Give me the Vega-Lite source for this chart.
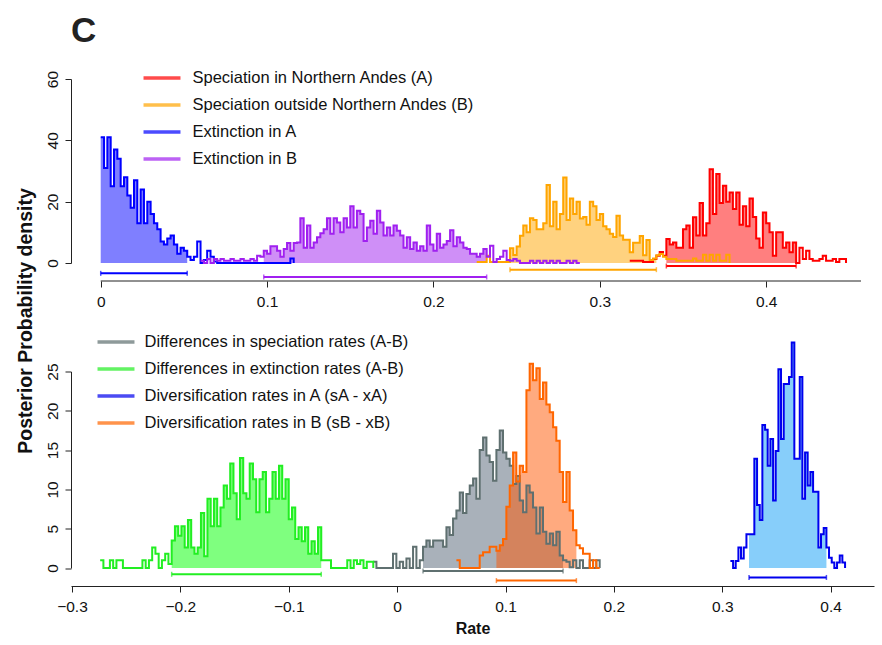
{
"$schema": "https://vega.github.io/schema/vega-lite/v6.json",
"background": "white",
"padding": {"left": 14, "top": 14, "right": 6, "bottom": 4},
"title": {"text": "C", "anchor": "start", "frame": "group", "fontSize": 35, "fontWeight": "bold", "font": "Liberation Sans", "color": "#222222", "baseline": "alphabetic", "offset": -17.5},
"config": {
  "view": {"stroke": null},
  "font": "Liberation Sans",
  "axis": {"grid": false, "domainColor": "#222222", "tickColor": "#222222", "labelColor": "#111111", "labelFont": "Liberation Sans", "labelFontSize": 15.5, "tickSize": 6, "labelFlush": false, "labelOverlap": false, "titleFont": "Liberation Sans", "titleFontSize": 16, "titleFontWeight": "bold", "titleColor": "#111111"},
  "legend": {"labelFont": "Liberation Sans", "labelFontSize": 16.5, "labelColor": "#111111", "labelLimit": 0, "symbolType": "M-1.12,0H1.12", "symbolSize": 1089, "symbolStrokeWidth": 3.5, "padding": 0, "rowPadding": 0}
},
"datasets": {
"topH": [{"k":"sA","lo":0.34,"hi":0.418},{"k":"sB","lo":0.246,"hi":0.334},{"k":"eA","lo":0,"hi":0.052},{"k":"eB","lo":0.098,"hi":0.232}],
"botH": [{"k":"dS","lo":0.0239,"hi":0.1531},{"k":"dE","lo":-0.208,"hi":-0.07},{"k":"dA","lo":0.3247,"hi":0.3961},{"k":"dB","lo":0.0916,"hi":0.1654}],
"top": [
{"k":"sA","x":0.318,"y":0.7},{"k":"sA","x":0.32,"y":0.7},{"k":"sA","x":0.322,"y":0.7},{"k":"sA","x":0.324,"y":0.7},{"k":"sA","x":0.326,"y":0.3},{"k":"sA","x":0.328,"y":0.3},{"k":"sA","x":0.33,"y":0.3},{"k":"sA","x":0.332,"y":1.3},{"k":"sA","x":0.334,"y":2.4},{"k":"sA","x":0.336,"y":3.6},{"k":"sA","x":0.338,"y":2.4},{"k":"sA","x":0.34,"y":7.8},{"k":"sA","x":0.342,"y":6},{"k":"sA","x":0.344,"y":6.7},{"k":"sA","x":0.346,"y":5},{"k":"sA","x":0.348,"y":5},{"k":"sA","x":0.35,"y":11},{"k":"sA","x":0.352,"y":12.2},{"k":"sA","x":0.354,"y":5},{"k":"sA","x":0.356,"y":14.9},{"k":"sA","x":0.358,"y":9},{"k":"sA","x":0.36,"y":19.6},{"k":"sA","x":0.362,"y":9},{"k":"sA","x":0.364,"y":13},{"k":"sA","x":0.366,"y":30.6},{"k":"sA","x":0.368,"y":16},{"k":"sA","x":0.37,"y":29},{"k":"sA","x":0.372,"y":19.6},{"k":"sA","x":0.374,"y":25.2},{"k":"sA","x":0.376,"y":20},{"k":"sA","x":0.378,"y":23},{"k":"sA","x":0.38,"y":17.6},{"k":"sA","x":0.382,"y":23},{"k":"sA","x":0.384,"y":12.5},{"k":"sA","x":0.386,"y":18.5},{"k":"sA","x":0.388,"y":12},{"k":"sA","x":0.39,"y":21},{"k":"sA","x":0.392,"y":15},{"k":"sA","x":0.394,"y":8},{"k":"sA","x":0.396,"y":5},{"k":"sA","x":0.398,"y":16.5},{"k":"sA","x":0.4,"y":13},{"k":"sA","x":0.402,"y":10},{"k":"sA","x":0.404,"y":2.4},{"k":"sA","x":0.406,"y":10},{"k":"sA","x":0.408,"y":10},{"k":"sA","x":0.41,"y":5},{"k":"sA","x":0.412,"y":6.7},{"k":"sA","x":0.414,"y":3.5},{"k":"sA","x":0.416,"y":6.7},{"k":"sA","x":0.418,"y":0},{"k":"sA","x":0.42,"y":5},{"k":"sA","x":0.422,"y":1.3},{"k":"sA","x":0.424,"y":4},{"k":"sA","x":0.426,"y":1.3},{"k":"sA","x":0.428,"y":0.7},{"k":"sA","x":0.43,"y":0.7},{"k":"sA","x":0.432,"y":1.3},{"k":"sA","x":0.434,"y":2.4},{"k":"sA","x":0.436,"y":0.7},{"k":"sA","x":0.438,"y":0.7},{"k":"sA","x":0.44,"y":1.3},{"k":"sA","x":0.442,"y":0.3},{"k":"sA","x":0.444,"y":1.3},{"k":"sA","x":0.446,"y":1.3},{"k":"sA","x":0.448,"y":0},
{"k":"sB","x":0.226,"y":0.3},{"k":"sB","x":0.23,"y":0.3},{"k":"sB","x":0.232,"y":2.4},{"k":"sB","x":0.234,"y":0.3},{"k":"sB","x":0.244,"y":0.3},{"k":"sB","x":0.246,"y":4.8},{"k":"sB","x":0.248,"y":2.6},{"k":"sB","x":0.25,"y":5.4},{"k":"sB","x":0.252,"y":8.9},{"k":"sB","x":0.254,"y":12.2},{"k":"sB","x":0.256,"y":10},{"k":"sB","x":0.258,"y":14.6},{"k":"sB","x":0.26,"y":14},{"k":"sB","x":0.262,"y":11},{"k":"sB","x":0.264,"y":11},{"k":"sB","x":0.266,"y":13},{"k":"sB","x":0.268,"y":25.4},{"k":"sB","x":0.27,"y":12},{"k":"sB","x":0.272,"y":20},{"k":"sB","x":0.274,"y":11},{"k":"sB","x":0.276,"y":16},{"k":"sB","x":0.278,"y":27.9},{"k":"sB","x":0.28,"y":14},{"k":"sB","x":0.282,"y":21},{"k":"sB","x":0.284,"y":16},{"k":"sB","x":0.286,"y":20},{"k":"sB","x":0.288,"y":14.5},{"k":"sB","x":0.29,"y":15},{"k":"sB","x":0.292,"y":12.5},{"k":"sB","x":0.294,"y":20},{"k":"sB","x":0.296,"y":18.5},{"k":"sB","x":0.298,"y":14},{"k":"sB","x":0.3,"y":16},{"k":"sB","x":0.302,"y":12},{"k":"sB","x":0.304,"y":11},{"k":"sB","x":0.306,"y":9.5},{"k":"sB","x":0.308,"y":8.5},{"k":"sB","x":0.31,"y":15.4},{"k":"sB","x":0.312,"y":9},{"k":"sB","x":0.314,"y":7.6},{"k":"sB","x":0.316,"y":7.6},{"k":"sB","x":0.318,"y":3.5},{"k":"sB","x":0.32,"y":6.6},{"k":"sB","x":0.322,"y":6.6},{"k":"sB","x":0.324,"y":8.8},{"k":"sB","x":0.326,"y":2.5},{"k":"sB","x":0.328,"y":7.5},{"k":"sB","x":0.33,"y":1},{"k":"sB","x":0.332,"y":1.5},{"k":"sB","x":0.334,"y":2.5},{"k":"sB","x":0.336,"y":2.9},{"k":"sB","x":0.338,"y":2},{"k":"sB","x":0.34,"y":1.3},{"k":"sB","x":0.342,"y":1.3},{"k":"sB","x":0.344,"y":1.3},{"k":"sB","x":0.346,"y":0.7},{"k":"sB","x":0.356,"y":1.5},{"k":"sB","x":0.358,"y":0.7},{"k":"sB","x":0.362,"y":2.7},{"k":"sB","x":0.364,"y":0.7},{"k":"sB","x":0.366,"y":2.7},{"k":"sB","x":0.368,"y":0.7},{"k":"sB","x":0.37,"y":2.7},{"k":"sB","x":0.372,"y":0.7},{"k":"sB","x":0.376,"y":2.7},{"k":"sB","x":0.378,"y":0},
{"k":"eA","x":0,"y":41},{"k":"eA","x":0.002,"y":31},{"k":"eA","x":0.004,"y":41},{"k":"eA","x":0.006,"y":25},{"k":"eA","x":0.008,"y":37},{"k":"eA","x":0.01,"y":34},{"k":"eA","x":0.012,"y":25},{"k":"eA","x":0.014,"y":28},{"k":"eA","x":0.016,"y":22},{"k":"eA","x":0.018,"y":18},{"k":"eA","x":0.02,"y":27},{"k":"eA","x":0.022,"y":13},{"k":"eA","x":0.024,"y":24},{"k":"eA","x":0.026,"y":13},{"k":"eA","x":0.028,"y":20},{"k":"eA","x":0.03,"y":16},{"k":"eA","x":0.032,"y":13},{"k":"eA","x":0.034,"y":11},{"k":"eA","x":0.036,"y":7},{"k":"eA","x":0.038,"y":6},{"k":"eA","x":0.04,"y":8},{"k":"eA","x":0.042,"y":9},{"k":"eA","x":0.044,"y":6},{"k":"eA","x":0.046,"y":3},{"k":"eA","x":0.048,"y":5},{"k":"eA","x":0.05,"y":4},{"k":"eA","x":0.052,"y":2},{"k":"eA","x":0.054,"y":1},{"k":"eA","x":0.056,"y":2},{"k":"eA","x":0.058,"y":7},{"k":"eA","x":0.06,"y":0},{"k":"eA","x":0.062,"y":1},{"k":"eA","x":0.064,"y":4},{"k":"eA","x":0.066,"y":2},{"k":"eA","x":0.068,"y":0.5},{"k":"eA","x":0.07,"y":0},{"k":"eA","x":0.114,"y":1.5},{"k":"eA","x":0.116,"y":0},
{"k":"eB","x":0.06,"y":0.7},{"k":"eB","x":0.062,"y":0},{"k":"eB","x":0.064,"y":1.3},{"k":"eB","x":0.066,"y":0},{"k":"eB","x":0.068,"y":1.3},{"k":"eB","x":0.07,"y":0.7},{"k":"eB","x":0.072,"y":1.3},{"k":"eB","x":0.074,"y":0.7},{"k":"eB","x":0.078,"y":1.3},{"k":"eB","x":0.08,"y":0.7},{"k":"eB","x":0.084,"y":1.3},{"k":"eB","x":0.086,"y":0.7},{"k":"eB","x":0.09,"y":1.3},{"k":"eB","x":0.092,"y":0.7},{"k":"eB","x":0.094,"y":2.4},{"k":"eB","x":0.096,"y":2},{"k":"eB","x":0.098,"y":4},{"k":"eB","x":0.1,"y":3},{"k":"eB","x":0.102,"y":5.5},{"k":"eB","x":0.104,"y":5.5},{"k":"eB","x":0.106,"y":4},{"k":"eB","x":0.108,"y":2},{"k":"eB","x":0.11,"y":4.6},{"k":"eB","x":0.112,"y":6.5},{"k":"eB","x":0.114,"y":4},{"k":"eB","x":0.116,"y":6.5},{"k":"eB","x":0.118,"y":6.7},{"k":"eB","x":0.12,"y":14.6},{"k":"eB","x":0.122,"y":5},{"k":"eB","x":0.124,"y":12.2},{"k":"eB","x":0.126,"y":5},{"k":"eB","x":0.128,"y":6.7},{"k":"eB","x":0.13,"y":8.4},{"k":"eB","x":0.132,"y":9.7},{"k":"eB","x":0.134,"y":11},{"k":"eB","x":0.136,"y":14.6},{"k":"eB","x":0.138,"y":9.5},{"k":"eB","x":0.14,"y":14.6},{"k":"eB","x":0.142,"y":13.2},{"k":"eB","x":0.144,"y":10},{"k":"eB","x":0.146,"y":14.6},{"k":"eB","x":0.148,"y":11.6},{"k":"eB","x":0.15,"y":18.5},{"k":"eB","x":0.152,"y":11.6},{"k":"eB","x":0.154,"y":17},{"k":"eB","x":0.156,"y":16},{"k":"eB","x":0.158,"y":7.2},{"k":"eB","x":0.16,"y":11.6},{"k":"eB","x":0.162,"y":13.8},{"k":"eB","x":0.164,"y":9.5},{"k":"eB","x":0.166,"y":17},{"k":"eB","x":0.168,"y":13.2},{"k":"eB","x":0.17,"y":9},{"k":"eB","x":0.172,"y":11.6},{"k":"eB","x":0.174,"y":9},{"k":"eB","x":0.176,"y":12.2},{"k":"eB","x":0.178,"y":10.5},{"k":"eB","x":0.18,"y":9},{"k":"eB","x":0.182,"y":5},{"k":"eB","x":0.184,"y":8.4},{"k":"eB","x":0.186,"y":4.6},{"k":"eB","x":0.188,"y":6.7},{"k":"eB","x":0.19,"y":4},{"k":"eB","x":0.192,"y":5.5},{"k":"eB","x":0.194,"y":4},{"k":"eB","x":0.196,"y":12.2},{"k":"eB","x":0.198,"y":6},{"k":"eB","x":0.2,"y":4},{"k":"eB","x":0.202,"y":9.5},{"k":"eB","x":0.204,"y":5},{"k":"eB","x":0.206,"y":6},{"k":"eB","x":0.208,"y":7.2},{"k":"eB","x":0.21,"y":10.7},{"k":"eB","x":0.212,"y":5.5},{"k":"eB","x":0.214,"y":8.4},{"k":"eB","x":0.216,"y":6.7},{"k":"eB","x":0.218,"y":5},{"k":"eB","x":0.22,"y":4.6},{"k":"eB","x":0.222,"y":3},{"k":"eB","x":0.224,"y":3},{"k":"eB","x":0.226,"y":2},{"k":"eB","x":0.228,"y":3},{"k":"eB","x":0.23,"y":4.6},{"k":"eB","x":0.232,"y":2},{"k":"eB","x":0.234,"y":5.6},{"k":"eB","x":0.236,"y":0.3},{"k":"eB","x":0.238,"y":1.3},{"k":"eB","x":0.24,"y":2},{"k":"eB","x":0.242,"y":4},{"k":"eB","x":0.244,"y":1},{"k":"eB","x":0.246,"y":0.7},{"k":"eB","x":0.248,"y":1.3},{"k":"eB","x":0.25,"y":0.7},{"k":"eB","x":0.252,"y":0},{"k":"eB","x":0.258,"y":0.7},{"k":"eB","x":0.26,"y":0},{"k":"eB","x":0.262,"y":0.7},{"k":"eB","x":0.264,"y":0},{"k":"eB","x":0.266,"y":0.7},{"k":"eB","x":0.268,"y":0},{"k":"eB","x":0.27,"y":0.7},{"k":"eB","x":0.272,"y":0},{"k":"eB","x":0.274,"y":0.7},{"k":"eB","x":0.276,"y":0},{"k":"eB","x":0.28,"y":0.7},{"k":"eB","x":0.282,"y":0},{"k":"eB","x":0.284,"y":0.7},{"k":"eB","x":0.286,"y":0},{"k":"eB","x":0.288,"y":0}
],
"bot": [
{"k":"dS","x":-0.0222,"y":0.8},{"k":"dS","x":-0.0191,"y":0},{"k":"dS","x":-0.0038,"y":1.8},{"k":"dS","x":-0.0007,"y":0},{"k":"dS","x":0.0024,"y":0.8},{"k":"dS","x":0.0055,"y":0},{"k":"dS","x":0.0086,"y":1.2},{"k":"dS","x":0.0116,"y":0},{"k":"dS","x":0.0147,"y":2.7},{"k":"dS","x":0.0178,"y":0},{"k":"dS","x":0.0209,"y":1},{"k":"dS","x":0.0239,"y":2.7},{"k":"dS","x":0.027,"y":3.5},{"k":"dS","x":0.0301,"y":2.7},{"k":"dS","x":0.0332,"y":3.5},{"k":"dS","x":0.0362,"y":3.5},{"k":"dS","x":0.0393,"y":3.5},{"k":"dS","x":0.0424,"y":2.7},{"k":"dS","x":0.0455,"y":5.2},{"k":"dS","x":0.0485,"y":4.2},{"k":"dS","x":0.0516,"y":6.3},{"k":"dS","x":0.0547,"y":7.3},{"k":"dS","x":0.0578,"y":9.6},{"k":"dS","x":0.0608,"y":7},{"k":"dS","x":0.0639,"y":9.4},{"k":"dS","x":0.067,"y":10.5},{"k":"dS","x":0.0701,"y":11.4},{"k":"dS","x":0.0731,"y":8.8},{"k":"dS","x":0.0762,"y":15},{"k":"dS","x":0.0793,"y":16.6},{"k":"dS","x":0.0824,"y":14.3},{"k":"dS","x":0.0854,"y":13.5},{"k":"dS","x":0.0885,"y":11.1},{"k":"dS","x":0.0916,"y":15},{"k":"dS","x":0.0947,"y":17.5},{"k":"dS","x":0.0977,"y":14.7},{"k":"dS","x":0.1008,"y":13.9},{"k":"dS","x":0.1039,"y":13},{"k":"dS","x":0.107,"y":10.7},{"k":"dS","x":0.11,"y":11.7},{"k":"dS","x":0.1131,"y":8.6},{"k":"dS","x":0.1162,"y":7.1},{"k":"dS","x":0.1193,"y":10.5},{"k":"dS","x":0.1223,"y":9.6},{"k":"dS","x":0.1254,"y":7.7},{"k":"dS","x":0.1285,"y":4.4},{"k":"dS","x":0.1316,"y":7.7},{"k":"dS","x":0.1346,"y":4.6},{"k":"dS","x":0.1377,"y":3.1},{"k":"dS","x":0.1408,"y":4.4},{"k":"dS","x":0.1439,"y":2.9},{"k":"dS","x":0.1469,"y":4.6},{"k":"dS","x":0.15,"y":1.6},{"k":"dS","x":0.1531,"y":1},{"k":"dS","x":0.1562,"y":0.8},{"k":"dS","x":0.1592,"y":0.1},{"k":"dS","x":0.1623,"y":1},{"k":"dS","x":0.1654,"y":0},{"k":"dS","x":0.1685,"y":1},{"k":"dS","x":0.1715,"y":0},{"k":"dS","x":0.1777,"y":1},{"k":"dS","x":0.1808,"y":0},{"k":"dS","x":0.1838,"y":1},{"k":"dS","x":0.1869,"y":0},
{"k":"dE","x":-0.274,"y":1},{"k":"dE","x":-0.271,"y":0},{"k":"dE","x":-0.265,"y":1},{"k":"dE","x":-0.262,"y":0},{"k":"dE","x":-0.259,"y":1},{"k":"dE","x":-0.253,"y":0},{"k":"dE","x":-0.235,"y":1},{"k":"dE","x":-0.232,"y":0},{"k":"dE","x":-0.229,"y":1},{"k":"dE","x":-0.226,"y":2.6},{"k":"dE","x":-0.223,"y":1.8},{"k":"dE","x":-0.22,"y":0},{"k":"dE","x":-0.217,"y":1},{"k":"dE","x":-0.214,"y":1.8},{"k":"dE","x":-0.211,"y":0.5},{"k":"dE","x":-0.208,"y":3.5},{"k":"dE","x":-0.205,"y":5.3},{"k":"dE","x":-0.202,"y":4.1},{"k":"dE","x":-0.199,"y":5.3},{"k":"dE","x":-0.196,"y":2.6},{"k":"dE","x":-0.193,"y":6.1},{"k":"dE","x":-0.19,"y":2.6},{"k":"dE","x":-0.187,"y":1.8},{"k":"dE","x":-0.184,"y":2.6},{"k":"dE","x":-0.181,"y":7},{"k":"dE","x":-0.178,"y":1.5},{"k":"dE","x":-0.175,"y":8.8},{"k":"dE","x":-0.172,"y":5.3},{"k":"dE","x":-0.169,"y":8.8},{"k":"dE","x":-0.166,"y":5.3},{"k":"dE","x":-0.163,"y":7.7},{"k":"dE","x":-0.16,"y":10.5},{"k":"dE","x":-0.157,"y":8.8},{"k":"dE","x":-0.154,"y":13.3},{"k":"dE","x":-0.151,"y":9.5},{"k":"dE","x":-0.148,"y":6.2},{"k":"dE","x":-0.145,"y":14},{"k":"dE","x":-0.142,"y":9.5},{"k":"dE","x":-0.139,"y":8.8},{"k":"dE","x":-0.136,"y":13.3},{"k":"dE","x":-0.133,"y":11.3},{"k":"dE","x":-0.13,"y":7.1},{"k":"dE","x":-0.127,"y":11.3},{"k":"dE","x":-0.124,"y":12.2},{"k":"dE","x":-0.121,"y":7.1},{"k":"dE","x":-0.118,"y":8.8},{"k":"dE","x":-0.115,"y":12.2},{"k":"dE","x":-0.112,"y":8.8},{"k":"dE","x":-0.109,"y":13},{"k":"dE","x":-0.106,"y":8.8},{"k":"dE","x":-0.103,"y":11.3},{"k":"dE","x":-0.1,"y":6.2},{"k":"dE","x":-0.097,"y":7.7},{"k":"dE","x":-0.094,"y":3.7},{"k":"dE","x":-0.091,"y":5.2},{"k":"dE","x":-0.088,"y":3.4},{"k":"dE","x":-0.085,"y":5.2},{"k":"dE","x":-0.082,"y":1.8},{"k":"dE","x":-0.079,"y":3.4},{"k":"dE","x":-0.076,"y":1.8},{"k":"dE","x":-0.073,"y":5.2},{"k":"dE","x":-0.07,"y":1},{"k":"dE","x":-0.061,"y":0},{"k":"dE","x":-0.046,"y":1},{"k":"dE","x":-0.043,"y":0},{"k":"dE","x":-0.04,"y":1},{"k":"dE","x":-0.037,"y":0.5},{"k":"dE","x":-0.034,"y":1},{"k":"dE","x":-0.031,"y":0},{"k":"dE","x":-0.028,"y":0.8},{"k":"dE","x":-0.022,"y":0},
{"k":"dA","x":0.3075,"y":0.9},{"k":"dA","x":0.31,"y":0},{"k":"dA","x":0.3124,"y":0.9},{"k":"dA","x":0.3149,"y":2.6},{"k":"dA","x":0.3173,"y":1.2},{"k":"dA","x":0.3198,"y":2.6},{"k":"dA","x":0.3223,"y":4.3},{"k":"dA","x":0.3247,"y":4.3},{"k":"dA","x":0.3272,"y":4.3},{"k":"dA","x":0.3296,"y":13.9},{"k":"dA","x":0.3321,"y":8},{"k":"dA","x":0.3346,"y":6.1},{"k":"dA","x":0.337,"y":18.2},{"k":"dA","x":0.3395,"y":17.6},{"k":"dA","x":0.3419,"y":13},{"k":"dA","x":0.3444,"y":16.4},{"k":"dA","x":0.3469,"y":8.6},{"k":"dA","x":0.3493,"y":14.9},{"k":"dA","x":0.3518,"y":25.3},{"k":"dA","x":0.3542,"y":16.4},{"k":"dA","x":0.3567,"y":23.4},{"k":"dA","x":0.3592,"y":23.4},{"k":"dA","x":0.3616,"y":24.3},{"k":"dA","x":0.3641,"y":28.7},{"k":"dA","x":0.3665,"y":13.9},{"k":"dA","x":0.369,"y":13.9},{"k":"dA","x":0.3715,"y":24.3},{"k":"dA","x":0.3739,"y":8.8},{"k":"dA","x":0.3764,"y":14.7},{"k":"dA","x":0.3788,"y":10.5},{"k":"dA","x":0.3813,"y":12.2},{"k":"dA","x":0.3838,"y":9.7},{"k":"dA","x":0.3862,"y":9.7},{"k":"dA","x":0.3887,"y":2.6},{"k":"dA","x":0.3911,"y":4.3},{"k":"dA","x":0.3936,"y":5.1},{"k":"dA","x":0.3961,"y":2.6},{"k":"dA","x":0.3985,"y":1.3},{"k":"dA","x":0.401,"y":0.7},{"k":"dA","x":0.4034,"y":0},{"k":"dA","x":0.4059,"y":0.7},{"k":"dA","x":0.4084,"y":1.6},{"k":"dA","x":0.4108,"y":0.7},{"k":"dA","x":0.4133,"y":0},
{"k":"dB","x":0.0547,"y":1},{"k":"dB","x":0.0578,"y":0},{"k":"dB","x":0.0762,"y":1.6},{"k":"dB","x":0.0793,"y":2},{"k":"dB","x":0.0824,"y":2},{"k":"dB","x":0.0854,"y":2.7},{"k":"dB","x":0.0885,"y":2.7},{"k":"dB","x":0.0916,"y":2.2},{"k":"dB","x":0.0947,"y":2.9},{"k":"dB","x":0.0977,"y":3.7},{"k":"dB","x":0.1008,"y":7.8},{"k":"dB","x":0.1039,"y":10.5},{"k":"dB","x":0.107,"y":14.7},{"k":"dB","x":0.11,"y":11},{"k":"dB","x":0.1131,"y":13},{"k":"dB","x":0.1162,"y":12.2},{"k":"dB","x":0.1193,"y":22.6},{"k":"dB","x":0.1223,"y":26},{"k":"dB","x":0.1254,"y":23.9},{"k":"dB","x":0.1285,"y":25.4},{"k":"dB","x":0.1316,"y":21.5},{"k":"dB","x":0.1346,"y":23.6},{"k":"dB","x":0.1377,"y":20.8},{"k":"dB","x":0.1408,"y":19.8},{"k":"dB","x":0.1439,"y":17.9},{"k":"dB","x":0.1469,"y":16.2},{"k":"dB","x":0.15,"y":12.2},{"k":"dB","x":0.1531,"y":8.4},{"k":"dB","x":0.1562,"y":12.2},{"k":"dB","x":0.1592,"y":7.3},{"k":"dB","x":0.1623,"y":4.8},{"k":"dB","x":0.1654,"y":2.9},{"k":"dB","x":0.1685,"y":2.5},{"k":"dB","x":0.1715,"y":1.8},{"k":"dB","x":0.1746,"y":1.8},{"k":"dB","x":0.1777,"y":0},{"k":"dB","x":0.1808,"y":1},{"k":"dB","x":0.1838,"y":0},{"k":"dB","x":0.1869,"y":0}
]
},
"bounds": "flush",
"spacing": 108.5,
"resolve": {"scale": {"x": "independent", "y": "independent", "color": "independent", "fill": "independent", "yOffset": "independent"}, "legend": {"color": "independent"}},
"vconcat": [
{
 "width": 790, "height": 184,
 "layer": [
  {"data": {"name": "top"},
   "transform": [{"lookup": "k", "from": {"data": {"name": "topH"}, "key": "k", "fields": ["lo", "hi"]}}, {"filter": "datum.x >= datum.lo - 0.00001 && datum.x <= datum.hi + 0.00001"}],
   "mark": {"type": "area", "interpolate": "step-after", "fillOpacity": 0.5},
   "encoding": {
     "x": {"field": "x", "type": "quantitative", "scale": {"domain": [-0.01786, 0.457], "nice": false, "zero": false}, "axis": {"values": [0, 0.1, 0.2, 0.3, 0.4], "format": "~g", "offset": 18, "domain": false, "labelPadding": 7, "labelOverlap": false, "title": null}},
     "y": {"field": "y", "type": "quantitative", "stack": null, "scale": {"domain": [0, 60], "nice": false}, "axis": {"values": [0, 20, 40, 60], "tickCount": 4, "labelAngle": 270, "labelAlign": "center", "labelBaseline": "bottom", "labelPadding": 5, "labelOverlap": false, "title": "Posterior Probability density", "titleFontSize": 19.5, "titleX": -46, "titleY": 241.5, "titleAngle": 270, "titleAlign": "center", "titleBaseline": "middle"}},
     "fill": {"field": "k", "type": "nominal", "scale": {"domain": ["eB", "eA", "sB", "sA"], "range": ["#A020F0", "#0000FF", "#FFA500", "#FF0000"]}, "legend": null}
   }},
  {"data": {"name": "top"},
   "mark": {"type": "line", "interpolate": "step-after", "strokeWidth": 2},
   "encoding": {
     "x": {"field": "x", "type": "quantitative", "scale": {"domain": [-0.01786, 0.457], "nice": false, "zero": false}, "axis": {"values": [0, 0.1, 0.2, 0.3, 0.4], "format": "~g", "offset": 18, "domain": false, "labelPadding": 7, "labelOverlap": false, "title": null}},
     "y": {"field": "y", "type": "quantitative", "scale": {"domain": [0, 60], "nice": false}, "axis": {"values": [0, 20, 40, 60], "tickCount": 4, "labelAngle": 270, "labelAlign": "center", "labelBaseline": "bottom", "labelPadding": 5, "labelOverlap": false, "title": "Posterior Probability density", "titleFontSize": 19.5, "titleX": -46, "titleY": 241.5, "titleAngle": 270, "titleAlign": "center", "titleBaseline": "middle"}},
     "color": {"field": "k", "type": "nominal", "scale": {"domain": ["sA", "sB", "eA", "eB"], "range": ["#FF0000", "#FFA500", "#0000FF", "#A020F0"]},
       "legend": {"orient": "none", "legendX": 72.5, "legendY": -19.5, "title": null, "labelOffset": 12,
         "labelExpr": "datum.label == 'sA' ? 'Speciation in Northern Andes (A)' : datum.label == 'sB' ? 'Speciation outside Northern Andes (B)' : datum.label == 'eA' ? 'Extinction in A' : 'Extinction in B'"}}
   }},
  {"data": {"name": "topH"},
   "mark": {"type": "rule", "strokeWidth": 2},
   "encoding": {
     "x": {"field": "lo", "type": "quantitative", "scale": {"domain": [-0.01786, 0.457], "nice": false, "zero": false}},
     "x2": {"field": "hi"},
     "y": {"datum": 0},
     "yOffset": {"field": "k", "type": "nominal", "scale": {"type": "point", "domain": ["sA", "sB", "eA", "eB"], "range": [3, 14], "padding": 0}},
     "color": {"field": "k", "type": "nominal", "scale": {"domain": ["sA", "sB", "eA", "eB"], "range": ["#FF0000", "#FFA500", "#0000FF", "#A020F0"]}}
   }},
  {"data": {"name": "topH"},
   "transform": [{"fold": ["lo", "hi"], "as": ["side", "v"]}],
   "mark": {"type": "tick", "orient": "vertical", "size": 5, "thickness": 1.5},
   "encoding": {
     "x": {"field": "v", "type": "quantitative", "scale": {"domain": [-0.01786, 0.457], "nice": false, "zero": false}},
     "y": {"datum": 0},
     "yOffset": {"field": "k", "type": "nominal", "scale": {"type": "point", "domain": ["sA", "sB", "eA", "eB"], "range": [3, 14], "padding": 0}},
     "color": {"field": "k", "type": "nominal", "scale": {"domain": ["sA", "sB", "eA", "eB"], "range": ["#FF0000", "#FFA500", "#0000FF", "#A020F0"]}}
   }},
  {"data": {"values": [{"a": 1}]},
   "mark": {"type": "rule", "color": "#222222", "strokeWidth": 1, "yOffset": 18},
   "encoding": {"x": {"datum": 0}, "x2": {"datum": 0.457}, "y": {"datum": 0}}}
 ]
},
{
 "width": 803, "height": 196.5,
 "layer": [
  {"data": {"name": "bot"},
   "transform": [{"lookup": "k", "from": {"data": {"name": "botH"}, "key": "k", "fields": ["lo", "hi"]}}, {"filter": "datum.x >= datum.lo - 0.00001 && datum.x <= datum.hi + 0.00001"}],
   "mark": {"type": "area", "interpolate": "step-after", "fillOpacity": 0.5},
   "encoding": {
     "x": {"field": "x", "type": "quantitative", "scale": {"domain": [-0.3009, 0.44], "nice": false, "zero": false}, "axis": {"values": [-0.3, -0.2, -0.1, 0, 0.1, 0.2, 0.3, 0.4], "format": "~g", "offset": 18, "labelPadding": 7, "labelOverlap": false, "title": "Rate", "titleY": 34, "titleBaseline": "top"}},
     "y": {"field": "y", "type": "quantitative", "stack": null, "scale": {"domain": [0, 25], "nice": false}, "axis": {"values": [0, 5, 10, 15, 20, 25], "tickCount": 6, "labelAngle": 270, "labelAlign": "center", "labelBaseline": "bottom", "labelPadding": 5, "labelOverlap": false, "title": null}},
     "fill": {"field": "k", "type": "nominal", "scale": {"domain": ["dB", "dA", "dE", "dS"], "range": ["#FF5500", "#0F9DF5", "#00FF00", "#536375"]}, "legend": null}
   }},
  {"data": {"name": "bot"},
   "mark": {"type": "line", "interpolate": "step-after", "strokeWidth": 2},
   "encoding": {
     "x": {"field": "x", "type": "quantitative", "scale": {"domain": [-0.3009, 0.44], "nice": false, "zero": false}, "axis": {"values": [-0.3, -0.2, -0.1, 0, 0.1, 0.2, 0.3, 0.4], "format": "~g", "offset": 18, "labelPadding": 7, "labelOverlap": false, "title": "Rate", "titleY": 34, "titleBaseline": "top"}},
     "y": {"field": "y", "type": "quantitative", "scale": {"domain": [0, 25], "nice": false}, "axis": {"values": [0, 5, 10, 15, 20, 25], "tickCount": 6, "labelAngle": 270, "labelAlign": "center", "labelBaseline": "bottom", "labelPadding": 5, "labelOverlap": false, "title": null}},
     "color": {"field": "k", "type": "nominal", "scale": {"domain": ["dS", "dE", "dA", "dB"], "range": ["#5F7070", "#22EE22", "#0000EE", "#FF6600"]},
       "legend": {"orient": "none", "legendX": 26.5, "legendY": -48, "title": null, "labelOffset": 10,
         "labelExpr": "datum.label == 'dS' ? 'Differences in speciation rates (A-B)' : datum.label == 'dE' ? 'Differences in extinction rates (A-B)' : datum.label == 'dA' ? 'Diversification rates in A (sA - xA)' : 'Diversification rates in B (sB - xB)'"}}
   }},
  {"data": {"name": "botH"},
   "mark": {"type": "rule", "strokeWidth": 2},
   "encoding": {
     "x": {"field": "lo", "type": "quantitative", "scale": {"domain": [-0.3009, 0.44], "nice": false, "zero": false}},
     "x2": {"field": "hi"},
     "y": {"datum": 0},
     "yOffset": {"field": "k", "type": "nominal", "scale": {"type": "point", "domain": ["dS", "dE", "dA", "dB"], "range": [3.1, 12.6], "padding": 0}},
     "color": {"field": "k", "type": "nominal", "scale": {"domain": ["dS", "dE", "dA", "dB"], "range": ["#5F7070", "#22EE22", "#0000EE", "#FF6600"]}}
   }},
  {"data": {"name": "botH"},
   "transform": [{"fold": ["lo", "hi"], "as": ["side", "v"]}],
   "mark": {"type": "tick", "orient": "vertical", "size": 5, "thickness": 1.5},
   "encoding": {
     "x": {"field": "v", "type": "quantitative", "scale": {"domain": [-0.3009, 0.44], "nice": false, "zero": false}},
     "y": {"datum": 0},
     "yOffset": {"field": "k", "type": "nominal", "scale": {"type": "point", "domain": ["dS", "dE", "dA", "dB"], "range": [3.1, 12.6], "padding": 0}},
     "color": {"field": "k", "type": "nominal", "scale": {"domain": ["dS", "dE", "dA", "dB"], "range": ["#5F7070", "#22EE22", "#0000EE", "#FF6600"]}}
   }}
 ]
}
]
}
